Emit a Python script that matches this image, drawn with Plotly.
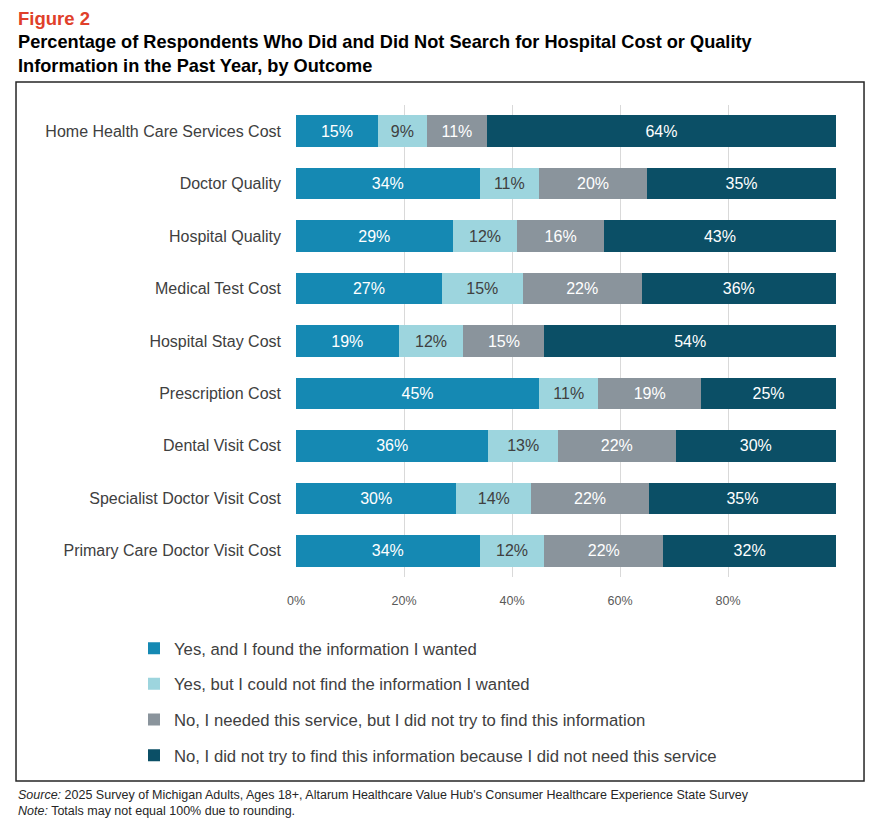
import plotly.graph_objects as go

# Survey outcomes, rows listed top to bottom as in the figure
categories = [
    "Home Health Care Services Cost",
    "Doctor Quality",
    "Hospital Quality",
    "Medical Test Cost",
    "Hospital Stay Cost",
    "Prescription Cost",
    "Dental Visit Cost",
    "Specialist Doctor Visit Cost",
    "Primary Care Doctor Visit Cost",
]

found_info = [15, 34, 29, 27, 19, 45, 36, 30, 34]
not_found_info = [9, 11, 12, 15, 12, 11, 13, 14, 12]
needed_no_search = [11, 20, 16, 22, 15, 19, 22, 22, 22]
not_needed = [64, 35, 43, 36, 54, 25, 30, 35, 32]

series_names = [
    "Yes, and I found the information I wanted",
    "Yes, but I could not find the information I wanted",
    "No, I needed this service, but I did not try to find this information",
    "No, I did not try to find this information because I did not need this service",
]

tick_values = [0, 20, 40, 60, 80]
tick_labels = ["0%", "20%", "40%", "60%", "80%"]

colors = ["#1589b3", "#9dd5de", "#8a949c", "#0b4f66"]
text_colors = ["white", "#404040", "white", "white"]

FONT = "Liberation Sans, Arial, sans-serif"

fig = go.Figure()
for i, (name, vals) in enumerate(zip(series_names,
                                     [found_info, not_found_info, needed_no_search, not_needed])):
    fig.add_trace(go.Bar(
        y=categories,
        x=vals,
        name=name,
        orientation="h",
        marker=dict(color=colors[i], line=dict(width=0)),
        text=[f"{v}%" for v in vals],
        textposition="inside",
        insidetextanchor="middle",
        textangle=0,
        constraintext="none",
        textfont=dict(color=text_colors[i], size=16, family=FONT),
        legendgroup=f"g{i}",
        hoverinfo="skip",
    ))

fig.update_layout(
    width=877,
    height=823,
    barmode="stack",
    barnorm="percent",
    bargap=0.40,
    plot_bgcolor="white",
    paper_bgcolor="white",
    margin=dict(l=296, r=41, t=105, b=246),
    font=dict(family=FONT, color="#404040"),
    showlegend=True,
    legend=dict(
        x=-0.30, y=-0.114, xanchor="left", yanchor="top",
        orientation="v", traceorder="grouped",
        font=dict(size=16.7, color="#404040", family=FONT),
        tracegroupgap=11,
        bgcolor="rgba(0,0,0,0)",
    ),
    xaxis=dict(
        range=[0, 100],
        tickvals=tick_values,
        ticktext=tick_labels,
        showgrid=True,
        gridcolor="#d9d9d9",
        gridwidth=1,
        zeroline=False,
        showline=False,
        tickfont=dict(size=12.5, color="#595959"),
        ticks="",
        ticklabelstandoff=14,
    ),
    yaxis=dict(
        autorange="reversed",
        showgrid=False,
        showline=False,
        ticks="",
        tickfont=dict(size=16, color="#404040"),
        ticklabelstandoff=14,
    ),
)

# outer frame around the chart
fig.add_shape(type="rect", xref="paper", yref="paper",
              x0=-0.5185, x1=1.0519, y0=-0.432, y1=1.0487,
              line=dict(color="#262626", width=1.5), layer="below")

# heading
fig.add_annotation(text="<b>Figure 2</b>", xref="paper", yref="paper",
                   x=-0.5185, y=1.0487 + 64 / 472, xanchor="left", yanchor="middle",
                   showarrow=False, font=dict(size=18.5, color="#e0402a", family=FONT))
fig.add_annotation(
    text="<b>Percentage of Respondents Who Did and Did Not Search for Hospital Cost or Quality<br>"
         "Information in the Past Year, by Outcome</b>",
    xref="paper", yref="paper", x=-0.5185, y=1.0487 + 28 / 472,
    xanchor="left", yanchor="middle", align="left", showarrow=False,
    font=dict(size=18.2, color="black", family=FONT))

# footer
fig.add_annotation(
    text="<i>Source:</i> 2025 Survey of Michigan Adults, Ages 18+, Altarum Healthcare Value Hub's "
         "Consumer Healthcare Experience State Survey<br><i>Note:</i> Totals may not equal 100% due to rounding.",
    xref="paper", yref="paper", x=-0.5185, y=-0.432 - 22 / 472,
    xanchor="left", yanchor="middle", align="left", showarrow=False,
    font=dict(size=12.5, color="#262626", family=FONT))

# drop the default page margin so the figure sits at the window's corner
fig.write_html("out.html", config={"displayModeBar": False},
               post_script="document.body.style.margin='0px';")
